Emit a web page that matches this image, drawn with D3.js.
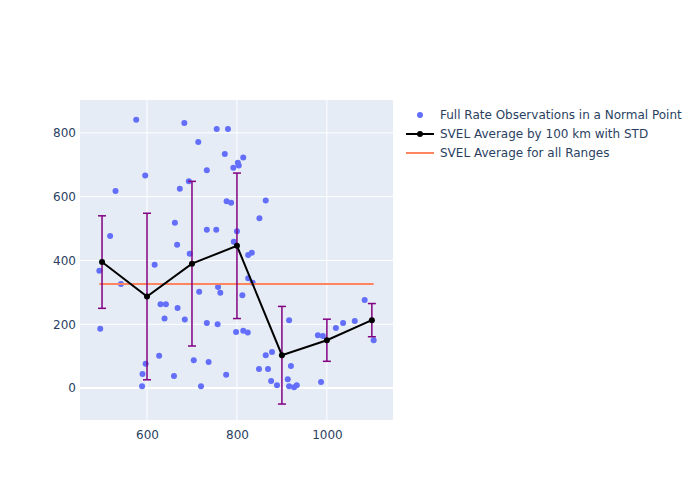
<!DOCTYPE html>
<html>
<head>
<meta charset="utf-8">
<script src="https://cdn.jsdelivr.net/npm/d3@7"></script>
<style>
  body { margin: 0; background: #fff; }
  text { font-family: "DejaVu Sans", sans-serif; fill: #2a3f5f; }
</style>
</head>
<body>
<script>
const WIDTH = 700;
const HEIGHT = 500;

// full rate observations (range km, SVEL value)
const obsRange = [494, 496, 518, 530, 542, 576, 589, 590, 596, 597, 617, 627, 630, 639, 642,
  660, 662, 667, 668, 673, 683, 684, 693, 695, 704, 714, 716, 720, 733, 733, 733, 737,
  754, 755, 757, 758, 763, 773, 776, 777, 780, 787, 792, 793, 798, 800, 802, 804, 814,
  812, 814, 824, 825, 833, 825, 835, 850, 849, 864, 864, 869, 876, 878, 889, 913, 916,
  920, 916, 927, 933, 980, 987, 991, 1020, 1036, 1062, 1084, 1104];
const obsValue = [368, 186, 477, 618, 326, 841, 6, 44, 666, 76, 387, 101, 263, 218, 263,
  38, 518, 449, 251, 625, 831, 215, 648, 421, 87, 771, 302, 6, 683, 496, 204, 82,
  496, 812, 200, 317, 299, 734, 42, 586, 812, 581, 691, 459, 176, 492, 706, 698, 723,
  291, 180, 174, 417, 424, 344, 330, 532, 60, 588, 103, 60, 22, 113, 9, 28, 213,
  69, 6, 3, 9, 166, 19, 163, 188, 204, 210, 276, 150];

// averages by 100 km bins
const binRange = [500, 600, 700, 800, 900, 1000, 1100];
const binMean = [395, 287, 390, 446, 103, 150, 213];
const binStd = [145, 261, 258, 228, 153, 66, 52];

const overallMean = 326;

const xTicks = [600, 800, 1000];
const yTicks = [0, 200, 400, 600, 800];

const legendLabels = ['Full Rate Observations in a Normal Point',
  'SVEL Average by 100 km with STD', 'SVEL Average for all Ranges'];

const margin = {left: 80, top: 100, right: 307, bottom: 80};
const plotW = WIDTH - margin.left - margin.right;
const plotH = HEIGHT - margin.top - margin.bottom;

const svg = d3.select('body').append('svg')
    .attr('width', WIDTH)
    .attr('height', HEIGHT);

const x = d3.scaleLinear().domain([451, 1147]).range([0, plotW]);
const y = d3.scaleLinear().domain([-100, 903]).range([plotH, 0]);

const g = svg.append('g')
    .attr('transform', `translate(${margin.left}, ${margin.top})`);

g.append('rect')
    .attr('width', plotW)
    .attr('height', plotH)
    .attr('fill', '#E5ECF6');

// grid
g.append('g').selectAll('line').data(xTicks).join('line')
    .attr('x1', d => x(d)).attr('x2', d => x(d))
    .attr('y1', 0).attr('y2', plotH)
    .attr('stroke', '#fff').attr('stroke-width', 1);
g.append('g').selectAll('line').data(yTicks).join('line')
    .attr('x1', 0).attr('x2', plotW)
    .attr('y1', d => y(d)).attr('y2', d => y(d))
    .attr('stroke', '#fff').attr('stroke-width', d => d === 0 ? 2 : 1);

// axes (labels only)
const xAxis = g.append('g')
    .attr('transform', `translate(0, ${plotH})`)
    .call(d3.axisBottom(x).tickValues(xTicks).tickFormat(d3.format('d')).tickSize(0).tickPadding(10));
const yAxis = g.append('g')
    .call(d3.axisLeft(y).tickValues(yTicks).tickFormat(d3.format('d')).tickSize(0).tickPadding(4));
[xAxis, yAxis].forEach(a => {
  a.select('.domain').remove();
  a.selectAll('text')
      .attr('font-size', 12)
      .attr('font-family', '"DejaVu Sans", sans-serif')
      .attr('fill', '#2a3f5f');
});

// observations
g.append('g').selectAll('circle').data(obsRange).join('circle')
    .attr('cx', d => x(d))
    .attr('cy', (d, i) => y(obsValue[i]))
    .attr('r', 3)
    .attr('fill', '#636efa');

// overall average
g.append('line')
    .attr('x1', x(d3.min(obsRange))).attr('x2', x(d3.max(obsRange)))
    .attr('y1', y(overallMean)).attr('y2', y(overallMean))
    .attr('stroke', '#ff8560').attr('stroke-width', 2);

// error bars
const eb = g.append('g').attr('stroke', 'purple').attr('stroke-width', 1.5);
binRange.forEach((r, i) => {
  const top = y(binMean[i] + binStd[i]);
  const bot = y(binMean[i] - binStd[i]);
  eb.append('line').attr('x1', x(r)).attr('x2', x(r)).attr('y1', top).attr('y2', bot);
  eb.append('line').attr('x1', x(r) - 4).attr('x2', x(r) + 4).attr('y1', top).attr('y2', top);
  eb.append('line').attr('x1', x(r) - 4).attr('x2', x(r) + 4).attr('y1', bot).attr('y2', bot);
});

// bin averages
const line = d3.line()
    .x(d => x(d))
    .y((d, i) => y(binMean[i]));
g.append('path')
    .attr('d', line(binRange))
    .attr('fill', 'none')
    .attr('stroke', 'black')
    .attr('stroke-width', 2);
g.append('g').selectAll('circle').data(binRange).join('circle')
    .attr('cx', d => x(d))
    .attr('cy', (d, i) => y(binMean[i]))
    .attr('r', 3)
    .attr('fill', 'black');

// legend
const legend = svg.append('g').attr('transform', 'translate(406, 115)');
legendLabels.forEach((lab, i) => {
  const row = legend.append('g').attr('transform', `translate(0, ${i * 19})`);
  if (i === 0) {
    row.append('circle').attr('cx', 14).attr('cy', 0).attr('r', 3).attr('fill', '#636efa');
  } else if (i === 1) {
    row.append('line').attr('x1', 0).attr('x2', 28).attr('y1', 0).attr('y2', 0)
        .attr('stroke', 'black').attr('stroke-width', 2);
    row.append('circle').attr('cx', 14).attr('cy', 0).attr('r', 3).attr('fill', 'black');
  } else {
    row.append('line').attr('x1', 0).attr('x2', 28).attr('y1', 0).attr('y2', 0)
        .attr('stroke', '#ff8560').attr('stroke-width', 2);
  }
  row.append('text')
      .attr('x', 34)
      .attr('y', 4)
      .attr('font-size', 12)
      .text(lab);
});
</script>
</body>
</html>
